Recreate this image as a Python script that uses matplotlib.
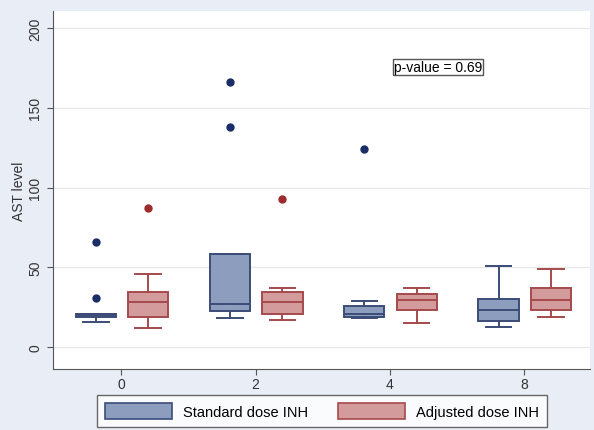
import matplotlib.pyplot as plt
import numpy as np

plt.rcParams['font.family'] = ['Liberation Sans', 'DejaVu Sans']

# data
weeks = ['0', '2', '4', '8']
std_q1 = [19, 22.5, 19, 16.5]
std_med = [20, 27, 21, 23.5]
std_q3 = [21, 58.5, 26, 30]
std_lo = [16, 18, 18, 12.5]
std_hi = [21, 58.5, 29, 51]
std_out = [[66, 31], [166, 138], [124], []]

adj_q1 = [19, 21, 23, 23.5]
adj_med = [28.5, 28.5, 29.5, 29.5]
adj_q3 = [34.5, 34.5, 33, 37]
adj_lo = [12, 17, 15, 19]
adj_hi = [46, 37, 37, 49]
adj_out = [[87], [93], [], []]

def stats(q1, med, q3, lo, hi, out):
    res = []
    for i in range(len(q1)):
        res.append(dict(q1=q1[i], med=med[i], q3=q3[i], whislo=lo[i], whishi=hi[i], fliers=out[i]))
    return res

fig = plt.figure(figsize=(5.94, 4.31), dpi=100, facecolor='#e9edf5')
ax = fig.add_axes([0.089, 0.1415, 0.904, 0.8305])
ax.set_facecolor('white')

x = np.arange(len(weeks))
groups = [
    (stats(std_q1, std_med, std_q3, std_lo, std_hi, std_out), -0.19, '#8c9dbd', '#3b4c78', '#1b2d66'),
    (stats(adj_q1, adj_med, adj_q3, adj_lo, adj_hi, adj_out), 0.2, '#d49b9d', '#a54a4c', '#9e2a2c'),
]
for st, off, fc, ec, dc in groups:
    ax.bxp(st, positions=x + off, widths=0.3, capwidths=0.19, patch_artist=True,
           boxprops=dict(facecolor=fc, edgecolor=ec, linewidth=1.4),
           medianprops=dict(color=ec, linewidth=1.4),
           whiskerprops=dict(color=ec, linewidth=1.4),
           capprops=dict(color=ec, linewidth=1.4),
           flierprops=dict(marker='o', markerfacecolor=dc, markeredgecolor=dc, markersize=5))

ax.set_xlim(-0.51, 3.49)
ax.set_ylim(-13.8, 210.7)
ax.set_xticks(x)
ax.set_xticklabels(weeks, fontsize=10, color='#333333')
ax.set_yticks([0, 50, 100, 150, 200])
ax.set_yticklabels(['0', '50', '100', '150', '200'], rotation=90, va='center', fontsize=10, color='#333333')
ax.yaxis.grid(True, color='#e6e8ec', linewidth=1)
ax.set_axisbelow(True)
ax.set_ylabel('AST level', fontsize=10, color='#333333', labelpad=2)
ax.tick_params(direction='out', color='#555555', length=4)
ax.tick_params(axis='x', pad=2)
for s in ['top', 'right']:
    ax.spines[s].set_visible(False)
for s in ['left', 'bottom']:
    ax.spines[s].set_color('#555555')

ax.text(2.36, 175.5, 'p-value = 0.69', fontsize=10, ha='center', va='center',
        bbox=dict(boxstyle='square,pad=0.05', facecolor='white', edgecolor='#555555', linewidth=1))

h1 = plt.Rectangle((0, 0), 1, 1, facecolor='#8c9dbd', edgecolor='#3b4c78', linewidth=1.2)
h2 = plt.Rectangle((0, 0), 1, 1, facecolor='#d49b9d', edgecolor='#a54a4c', linewidth=1.2)
leg = fig.legend([h1, h2], ['Standard dose INH', 'Adjusted dose INH'], loc='center',
                 bbox_to_anchor=(0.542, 0.044), ncol=2, fontsize=10.5, frameon=True,
                 fancybox=False, edgecolor='#444444', handlelength=4.6, handleheight=1.3,
                 handletextpad=0.8, columnspacing=2.0, borderpad=0.55, borderaxespad=0)
leg.get_frame().set_linewidth(1)

fig.savefig('out.png', dpi=100, facecolor=fig.get_facecolor())
